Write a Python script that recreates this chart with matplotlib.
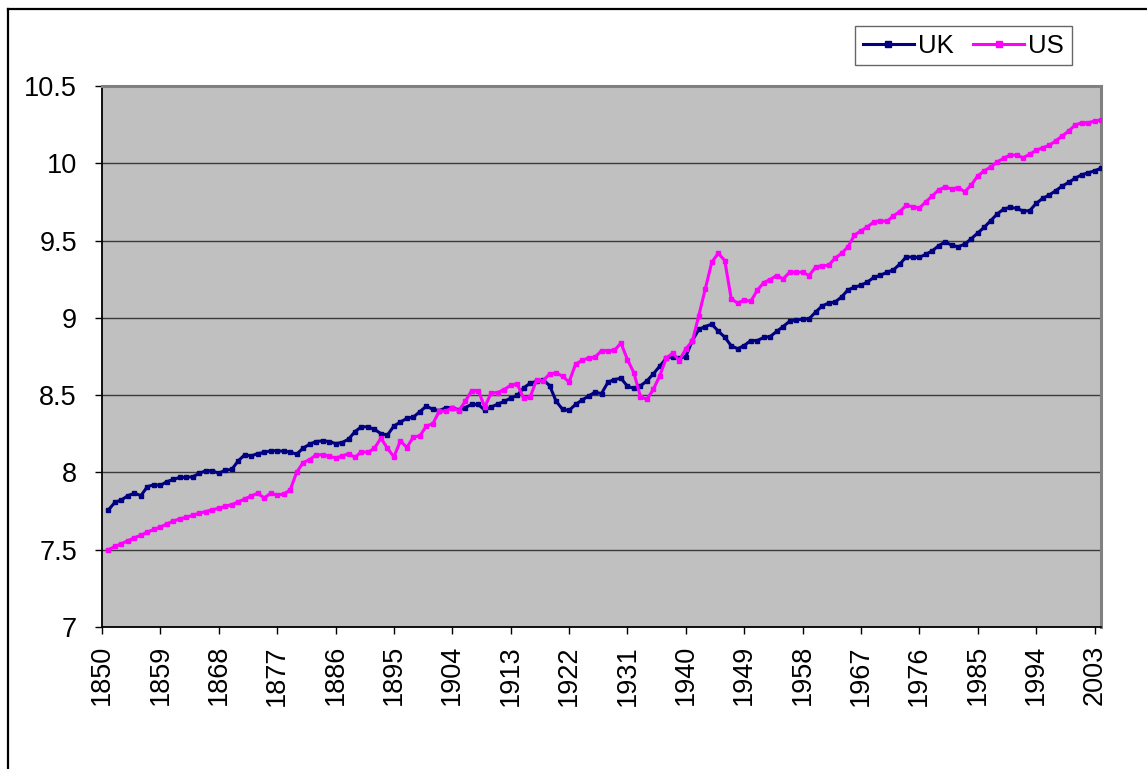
import matplotlib
matplotlib.use("Agg")
import matplotlib.pyplot as plt
from matplotlib.lines import Line2D

plt.rcParams['font.family'] = ['Liberation Sans', 'DejaVu Sans']

years = list(range(1851, 2005))

uk = [
    7.758, 7.807, 7.822, 7.850, 7.865, 7.850, 7.908, 7.920, 7.916, 7.940,   # 1851-1860
    7.955, 7.968, 7.968, 7.972, 7.994, 8.011, 8.011, 7.994, 8.015, 8.019,   # 1861-1870
    8.075, 8.114, 8.107, 8.122, 8.129, 8.140, 8.140, 8.137, 8.132, 8.118,   # 1871-1880
    8.157, 8.182, 8.200, 8.204, 8.200, 8.187, 8.193, 8.215, 8.264, 8.296,   # 1881-1890
    8.294, 8.279, 8.251, 8.242, 8.300, 8.326, 8.350, 8.358, 8.393, 8.429,   # 1891-1900
    8.408, 8.400, 8.418, 8.418, 8.405, 8.420, 8.440, 8.440, 8.403, 8.423,   # 1901-1910
    8.442, 8.459, 8.481, 8.498, 8.547, 8.577, 8.590, 8.599, 8.562, 8.461,   # 1911-1920
    8.408, 8.401, 8.440, 8.468, 8.494, 8.519, 8.510, 8.584, 8.601, 8.609,   # 1921-1930
    8.558, 8.543, 8.560, 8.592, 8.638, 8.688, 8.739, 8.750, 8.739, 8.750,   # 1931-1940
    8.853, 8.925, 8.944, 8.959, 8.914, 8.875, 8.819, 8.800, 8.821, 8.853,   # 1941-1950
    8.853, 8.873, 8.879, 8.912, 8.944, 8.978, 8.987, 8.991, 8.994, 9.037,   # 1951-1960
    9.077, 9.095, 9.102, 9.135, 9.181, 9.198, 9.211, 9.232, 9.262, 9.275,   # 1961-1970
    9.295, 9.310, 9.348, 9.396, 9.391, 9.391, 9.411, 9.434, 9.467, 9.492,   # 1971-1980
    9.469, 9.460, 9.477, 9.512, 9.549, 9.586, 9.629, 9.672, 9.704, 9.715,   # 1981-1990
    9.708, 9.691, 9.693, 9.740, 9.773, 9.794, 9.822, 9.852, 9.876, 9.903,   # 1991-2000
    9.925, 9.938, 9.951, 9.968,                                             # 2001-2004
]

us = [
    7.500, 7.521, 7.539, 7.558, 7.577, 7.594, 7.614, 7.631, 7.646, 7.667,   # 1851-1860
    7.685, 7.700, 7.710, 7.723, 7.736, 7.747, 7.758, 7.768, 7.780, 7.792,   # 1861-1870
    7.809, 7.828, 7.848, 7.865, 7.835, 7.865, 7.854, 7.860, 7.886, 8.000,   # 1871-1880
    8.064, 8.082, 8.114, 8.114, 8.105, 8.094, 8.105, 8.122, 8.097, 8.135,   # 1881-1890
    8.129, 8.157, 8.221, 8.157, 8.100, 8.204, 8.161, 8.230, 8.236, 8.300,   # 1891-1900
    8.315, 8.397, 8.397, 8.418, 8.400, 8.460, 8.530, 8.530, 8.423, 8.515,   # 1901-1910
    8.517, 8.536, 8.564, 8.573, 8.479, 8.487, 8.600, 8.594, 8.637, 8.644,   # 1911-1920
    8.622, 8.585, 8.700, 8.725, 8.740, 8.745, 8.788, 8.788, 8.790, 8.837,   # 1921-1930
    8.730, 8.644, 8.490, 8.472, 8.538, 8.627, 8.741, 8.772, 8.724, 8.800,   # 1931-1940
    8.849, 9.015, 9.188, 9.360, 9.418, 9.371, 9.123, 9.095, 9.116, 9.106,   # 1941-1950
    9.177, 9.228, 9.248, 9.274, 9.252, 9.295, 9.295, 9.295, 9.274, 9.328,   # 1951-1960
    9.338, 9.340, 9.386, 9.417, 9.460, 9.535, 9.563, 9.589, 9.621, 9.628,   # 1961-1970
    9.624, 9.660, 9.688, 9.729, 9.718, 9.710, 9.751, 9.789, 9.828, 9.847,   # 1971-1980
    9.834, 9.843, 9.815, 9.860, 9.918, 9.951, 9.976, 10.009, 10.032, 10.054,  # 1981-1990
    10.052, 10.036, 10.058, 10.084, 10.100, 10.116, 10.144, 10.176, 10.208, 10.247,  # 1991-2000
    10.262, 10.262, 10.273, 10.279,                                         # 2001-2004
]

x_ticks = list(range(1850, 2004, 9))
y_ticks = [7, 7.5, 8, 8.5, 9, 9.5, 10, 10.5]
y_tick_labels = ['7', '7.5', '8', '8.5', '9', '9.5', '10', '10.5']

W, H = 1147, 769
fig = plt.figure(figsize=(W / 100, H / 100), dpi=100)
fig.patch.set_facecolor('white')

ax = fig.add_axes([102 / W, 1 - 627 / H, (1101 - 102) / W, (627 - 86) / H])
ax.set_facecolor('#C0C0C0')

ax.plot(years, uk, color='#000080', lw=2.2, marker='s', ms=3.0,
        mfc='#000080', mec='#000080', label='UK', zorder=3)
ax.plot(years, us, color='#FF00FF', lw=2.2, marker='s', ms=3.0,
        mfc='#FF00FF', mec='#FF00FF', label='US', zorder=3)

ax.set_xlim(1850, 2004)
ax.set_ylim(7, 10.5)
ax.set_xticks(x_ticks)
ax.set_xticklabels([str(t) for t in x_ticks], rotation=90, fontsize=19.5)
ax.set_yticks(y_ticks)
ax.set_yticklabels(y_tick_labels, fontsize=19.5)
ax.tick_params(axis='x', direction='out', length=5, width=1, pad=8, colors='black')
ax.tick_params(axis='y', direction='out', length=5, width=1, pad=13, colors='black')

ax.yaxis.grid(True, color='#3a3a3a', lw=1.0, zorder=1)
ax.set_axisbelow(True)

for side in ['top', 'right']:
    ax.spines[side].set_color('#808080')
    ax.spines[side].set_linewidth(2.2)
for side in ['left', 'bottom']:
    ax.spines[side].set_color('black')
    ax.spines[side].set_linewidth(1.3)

leg = fig.legend(loc='upper left', bbox_to_anchor=(855 / W, 1 - 26 / H), ncol=2,
                 fontsize=18.5, frameon=True, fancybox=False, shadow=False,
                 handlelength=2.0, handletextpad=0.15, columnspacing=0.75,
                 borderpad=0.3, borderaxespad=0)
leg.get_frame().set_edgecolor('#404040')
leg.get_frame().set_linewidth(1.0)
for h in leg.legend_handles:
    h.set_markersize(4)

# outer chart-area border (extends past the image at right and bottom)
fig.add_artist(Line2D([8 / W, 1.02], [1 - 9 / H, 1 - 9 / H], color='black', lw=1.6,
                      transform=fig.transFigure))
fig.add_artist(Line2D([8 / W, 8 / W], [1 - 9 / H, -0.02], color='black', lw=1.6,
                      transform=fig.transFigure))

fig.savefig('out.png', dpi=100)
